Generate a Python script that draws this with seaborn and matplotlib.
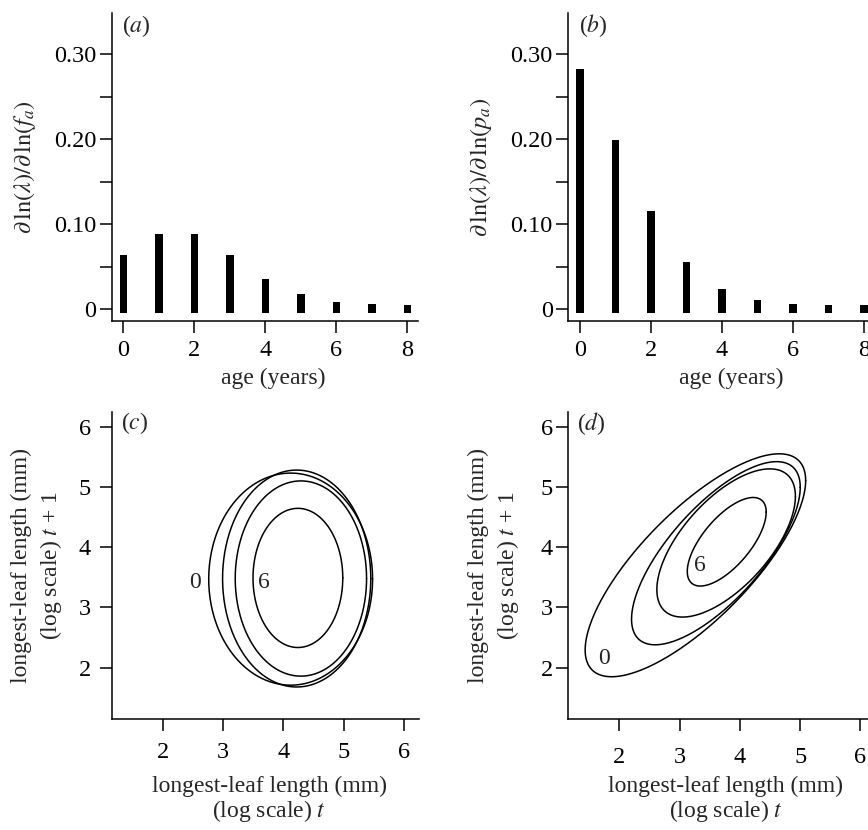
import numpy as np
import pandas as pd
import matplotlib
matplotlib.use("Agg")
import matplotlib.pyplot as plt
import seaborn as sns

# Datos: sensibilidades por edad
ages = [0, 1, 2, 3, 4, 5, 6, 7, 8]
sens_f = [0.064, 0.089, 0.089, 0.064, 0.036, 0.018, 0.009, 0.0062, 0.005]
sens_p = [0.283, 0.199, 0.115, 0.055, 0.024, 0.0105, 0.0065, 0.0048, 0.0048]
ytick_vals = [0, 0.10, 0.20, 0.30]
ytick_labels = ["0", "0.10", "0.20", "0.30"]

# Contornos (elipses): centro, semiejes en x/y, correlacion
c_cx = [4.12, 4.22, 4.29, 4.24]
c_cy = [3.47, 3.48, 3.48, 3.49]
c_sx = [1.36, 1.23, 1.09, 0.745]
c_sy = [1.76, 1.80, 1.62, 1.155]
c_r = [0.0, 0.0, 0.0, 0.0]

d_cx = [3.26, 3.60, 3.77, 3.78]
d_cy = [3.70, 3.90, 4.07, 4.09]
d_sx = [1.83, 1.40, 1.15, 0.655]
d_sy = [1.85, 1.52, 1.23, 0.735]
d_r = [0.76, 0.72, 0.63, 0.67]

contour_ticks = [2, 3, 4, 5, 6]

FS = 17

sns.set_style("ticks")
plt.rcParams["font.family"] = ["Liberation Serif", "DejaVu Serif"]
plt.rcParams["mathtext.fontset"] = "stix"
plt.rcParams["font.size"] = FS
plt.rcParams["axes.linewidth"] = 1.1
plt.rcParams["xtick.major.width"] = 1.1
plt.rcParams["ytick.major.width"] = 1.1
plt.rcParams["ytick.minor.width"] = 1.1
plt.rcParams["xtick.major.size"] = 8.6
plt.rcParams["ytick.major.size"] = 8.6
plt.rcParams["ytick.minor.size"] = 8.6
plt.rcParams["xtick.color"] = "black"
plt.rcParams["ytick.color"] = "black"
plt.rcParams["axes.edgecolor"] = "black"

fig = plt.figure(figsize=(8.68, 8.30), dpi=100)
ax_a = fig.add_axes([0.1287, 0.6133, 0.3529, 0.3711])
ax_b = fig.add_axes([0.6547, 0.6133, 0.3529, 0.3711])
ax_c = fig.add_axes([0.1287, 0.1334, 0.3540, 0.3706])
ax_d = fig.add_axes([0.6547, 0.1334, 0.3540, 0.3706])

bar_base = -0.0047


def bar_panel(ax, vals, ylab, tag, xlab_x, ylab_x):
    df = pd.DataFrame({"age": ages, "sens": vals})
    sns.barplot(data=df, x="age", y="sens", native_scale=True, width=0.21,
                color="black", saturation=1, errorbar=None, ax=ax)
    for p in ax.patches:
        p.set_y(bar_base)
        p.set_height(p.get_height() - bar_base)
        p.set_linewidth(0)
    ax.set_xlim(-0.327, 8.30)
    ax.set_ylim(-0.0138, 0.3486)
    ax.set_xticks([0, 2, 4, 6, 8])
    ax.set_yticks(ytick_vals, labels=ytick_labels)
    ax.set_yticks([0.05, 0.15, 0.25], minor=True)
    ax.tick_params(axis="y", which="both", pad=2.5, labelsize=FS + 0.5)
    ax.tick_params(axis="x", pad=5, labelsize=FS + 0.5)
    ax.set_xlabel("age (years)", fontsize=FS)
    ax.set_ylabel(ylab, fontsize=FS + 0.5)
    ax.xaxis.set_label_coords(xlab_x, -0.185)
    ax.yaxis.set_label_coords(ylab_x, 0.5)
    ax.xaxis.label.set_va("center")
    ax.yaxis.label.set_va("center")
    ax.text(0.035, 0.959, "(" + tag + ")", transform=ax.transAxes,
            fontsize=FS, va="center", ha="left")
    sns.despine(ax=ax)


bar_panel(ax_a, sens_f, r"$\partial\,\ln(\lambda)/\partial\,\ln(f_a)$", r"$a$", 0.527, -0.283)
bar_panel(ax_b, sens_p, r"$\partial\,\ln(\lambda)/\partial\,\ln(p_a)$", r"$b$", 0.531, -0.286)

t = np.linspace(0, 2 * np.pi, 300)


def contour_panel(ax, cx, cy, sx, sy, rr, tag, labels, ypad, xpad):
    for i in range(len(cx)):
        xs = cx[i] + sx[i] * np.cos(t)
        ys = cy[i] + sy[i] * (rr[i] * np.cos(t) + np.sqrt(1 - rr[i] ** 2) * np.sin(t))
        sns.lineplot(x=xs, y=ys, sort=False, estimator=None, color="black",
                     linewidth=1.1, ax=ax)
    for (lx, ly, s) in labels:
        ax.text(lx, ly, s, fontsize=FS, ha="center", va="center")
    ax.set_xlim(1.15, 6.25)
    ax.set_ylim(1.144, 6.249)
    ax.set_xticks(contour_ticks)
    ax.set_yticks(contour_ticks)
    ax.tick_params(axis="y", pad=ypad, labelsize=FS + 0.5)
    ax.tick_params(axis="x", pad=xpad, labelsize=FS + 0.5)
    ax.set_xlabel("longest-leaf length (mm)\n(log scale) $t$", fontsize=FS,
                  linespacing=1.1)
    ax.set_ylabel("longest-leaf length (mm)\n(log scale) $t$ + 1", fontsize=FS,
                  linespacing=1.3)
    ax.xaxis.set_label_coords(0.512, -0.262)
    ax.yaxis.set_label_coords(-0.241, 0.5)
    ax.xaxis.label.set_va("center")
    ax.yaxis.label.set_va("center")
    ax.text(0.03, 0.962, "(" + tag + ")", transform=ax.transAxes,
            fontsize=FS, va="center", ha="left")
    sns.despine(ax=ax)


contour_panel(ax_c, c_cx, c_cy, c_sx, c_sy, c_r, r"$c$",
              [(2.54, 3.41, "0"), (3.67, 3.41, "6")], 6.5, 8)
contour_panel(ax_d, d_cx, d_cy, d_sx, d_sy, d_r, r"$d$",
              [(1.74, 2.16, "0"), (3.34, 3.69, "6")], 2.5, 11)

fig.savefig("out.png", dpi=100)
